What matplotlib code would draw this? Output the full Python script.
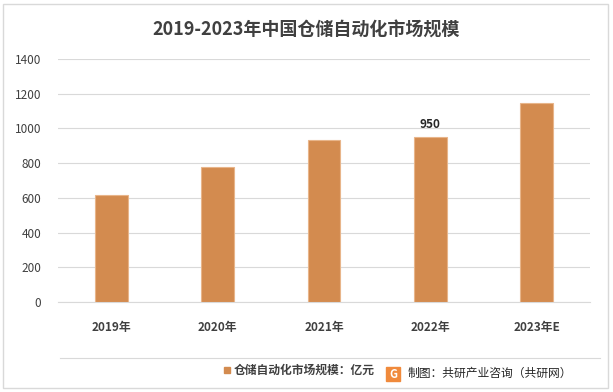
import matplotlib
matplotlib.use('Agg')
import matplotlib.pyplot as plt
from matplotlib.patches import Rectangle

plt.rcParams['font.family'] = ['Noto Sans CJK SC', 'DejaVu Sans']

years = ['2019年', '2020年', '2021年', '2022年', '2023年E']
values = [617, 778, 933, 950, 1146]
ticks = [0, 200, 400, 600, 800, 1000, 1200, 1400]

W, H = 613, 392
fig = plt.figure(figsize=(W / 100, H / 100), dpi=100)
fig.patch.set_facecolor('white')

# outer frame
fig.add_artist(Rectangle((3 / W, 4 / H), 605 / W, 384 / H, transform=fig.transFigure,
                         fill=False, edgecolor='#d9d9d9', linewidth=1))

ax = fig.add_axes([58 / W, (H - 302) / H, 532 / W, 243 / H])
x = range(len(years))
ax.bar(x, values, width=0.31, color='#d38b4f', edgecolor='#e8b58a', linewidth=0.8, zorder=3)
ax.set_xlim(-0.5, len(years) - 0.5)
ax.set_ylim(0, 1400)
ax.set_yticks(ticks)
ax.set_yticklabels([str(t) for t in ticks], fontsize=8.5, color='#404040')
ax.set_xticks(list(x))
ax.set_xticklabels(years, fontsize=8.5, color='#404040', fontweight='bold')
ax.tick_params(length=0, pad=14)
ax.tick_params(axis='y', pad=12)
ax.grid(axis='y', color='#d9d9d9', linewidth=0.8, zorder=0)
for s in ['top', 'right', 'left']:
    ax.spines[s].set_visible(False)
ax.spines['bottom'].set_color('#d9d9d9')

ax.text(3, values[3] + 35, '950', ha='center', va='bottom', fontsize=8.5,
        color='#262626', fontweight='bold')

fig.text(0.5, (H - 30) / H, '2019-2023年中国仓储自动化市场规模', ha='center', va='center',
         fontsize=13, fontweight='bold', color='#404040')

# divider line
fig.add_artist(plt.Line2D([60 / W, 600 / W], [(H - 358) / H] * 2, transform=fig.transFigure,
                          color='#d9d9d9', linewidth=0.8))

fig.add_artist(Rectangle((224 / W, (H - 373) / H), 6 / W, 6 / H, transform=fig.transFigure,
                         color='#d38b4f'))
fig.text(234 / W, (H - 370) / H, '仓储自动化市场规模：亿元', ha='left', va='center',
         fontsize=8.5, color='#404040', fontweight='bold')

fig.add_artist(Rectangle((386 / W, (H - 381) / H), 14 / W, 14 / H, transform=fig.transFigure,
                         color='#f08a3c'))
fig.text(393 / W, (H - 374) / H, 'G', ha='center', va='center', fontsize=8,
         color='white', fontweight='bold')
fig.text(408 / W, (H - 373) / H, '制图：共研产业咨询（共研网）', ha='left', va='center',
         fontsize=8.5, color='#262626')

fig.savefig('out.png', dpi=100, facecolor='white')
